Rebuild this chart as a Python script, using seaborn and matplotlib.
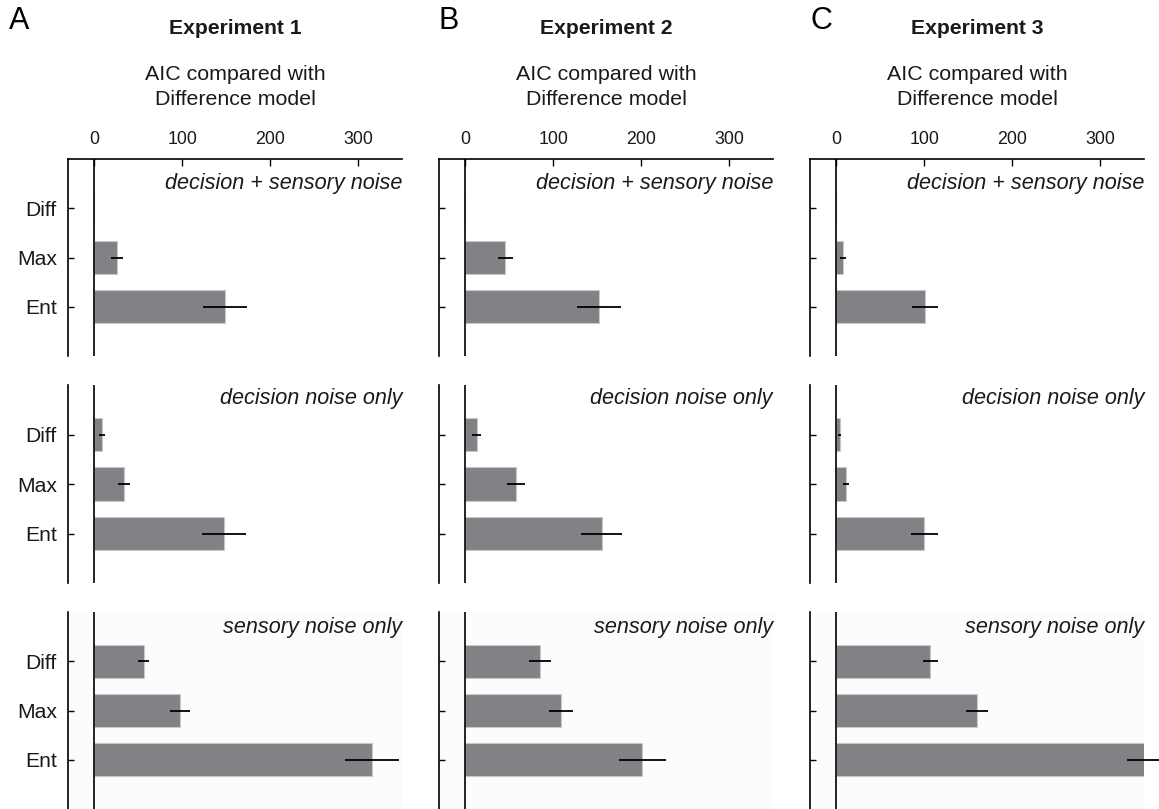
import matplotlib
matplotlib.use("Agg")
import matplotlib.pyplot as plt
import seaborn as sns
import pandas as pd
import numpy as np

sns.set_theme(style="white")
plt.rcParams['font.family'] = ['Liberation Sans', 'DejaVu Sans']

# ---------------- data ----------------
models = ["Diff", "Max", "Ent"]
experiments = ["Experiment 1", "Experiment 2", "Experiment 3"]
panel_letters = ["A", "B", "C"]
noise_types = ["decision + sensory noise", "decision noise only", "sensory noise only"]
xticks = [0, 100, 200, 300]

exp1_dec_sens = [0, 26, 149]
exp1_dec_sens_err = [0, 7, 25]
exp1_dec = [9, 33.5, 147]
exp1_dec_err = [3.5, 7, 25]
exp1_sens = [56, 97.5, 316]
exp1_sens_err = [6.5, 11.5, 31]

exp2_dec_sens = [0, 45.5, 152]
exp2_dec_sens_err = [0, 8.5, 24.5]
exp2_dec = [13, 57.5, 155]
exp2_dec_err = [5, 10, 23]
exp2_sens = [85, 108.5, 201.5]
exp2_sens_err = [12.5, 13.5, 26.5]

exp3_dec_sens = [0, 7.5, 101]
exp3_dec_sens_err = [0, 3, 15]
exp3_dec = [3.8, 10.5, 100]
exp3_dec_err = [2, 3.5, 15.5]
exp3_sens = [107, 160, 352]
exp3_sens_err = [9, 12, 21]

values = [[exp1_dec_sens, exp1_dec, exp1_sens],
          [exp2_dec_sens, exp2_dec, exp2_sens],
          [exp3_dec_sens, exp3_dec, exp3_sens]]
errors = [[exp1_dec_sens_err, exp1_dec_err, exp1_sens_err],
          [exp2_dec_sens_err, exp2_dec_err, exp2_sens_err],
          [exp3_dec_sens_err, exp3_dec_err, exp3_sens_err]]

# ---------------- layout ----------------
W, H = 1159, 809
fig = plt.figure(figsize=(W / 100, H / 100), dpi=100)

col_left = [68, 439, 810]
col_w = 334
row_top = [159, 385, 612]
row_bottom = [356, 583, 809]
label_offset = [24, 13, 15]
letter_x = [9, 439, 810]

bar_color = "#818285"
edge_color = "#c9c9c9"

def px_axes(l, t, w, h):
    return fig.add_axes([l / W, 1 - (t + h) / H, w / W, h / H])

for c in range(3):
    for r in range(3):
        h = row_bottom[r] - row_top[r]
        ax = px_axes(col_left[c], row_top[r], col_w, h)
        df = pd.DataFrame({"model": models, "aic": values[c][r]})
        sns.barplot(data=df, y="model", x="aic", orient="h", color=bar_color,
                    width=0.68, errorbar=None, ax=ax, saturation=1,
                    edgecolor=edge_color, linewidth=0.8)
        ax.errorbar(values[c][r], np.arange(3), xerr=errors[c][r], fmt="none",
                    ecolor="black", elinewidth=1.3, capsize=0, zorder=5,
                    clip_on=False)
        ax.axvline(0, color="black", lw=1.2, zorder=6)
        ax.set_xlim(-30, 350)
        ax.set_ylim(3, -1)
        ax.set_xlabel("")
        ax.set_ylabel("")
        ax.set_facecolor("#fcfcfc" if r == 2 else "white")

        for s in ["right", "bottom"]:
            ax.spines[s].set_visible(False)
        ax.spines["left"].set_color("black")
        ax.spines["left"].set_linewidth(1.2)
        if r == 0:
            ax.spines["top"].set_color("black")
            ax.spines["top"].set_linewidth(1.2)
            ax.xaxis.tick_top()
            ax.set_xticks(xticks)
            ax.set_xticklabels([str(t) for t in xticks])
            ax.tick_params(axis="x", direction="in", length=5, width=1.0,
                           colors="black", labelsize=12.8, pad=8,
                           top=True, bottom=False, labeltop=True, labelbottom=False)
            for lab in ax.get_xticklabels():
                lab.set_color("#1a1a1a")
        else:
            ax.spines["top"].set_visible(False)
            ax.set_xticks([])

        ax.set_yticks(range(3))
        if c == 0:
            ax.set_yticklabels(models)
        else:
            ax.set_yticklabels([])
        ax.tick_params(axis="y", direction="in", length=4, width=1.0,
                       colors="black", labelsize=15.2, pad=8, left=True)
        for lab in ax.get_yticklabels():
            lab.set_color("#1a1a1a")

        ax.text(1.0, 1 - label_offset[r] / h, noise_types[r], transform=ax.transAxes,
                ha="right", va="center", fontsize=15.6, style="italic",
                color="#1a1a1a")

        if r == 0:
            cx = (col_left[c] + col_w / 2) / W
            fig.text(cx, 1 - 29 / H, experiments[c], ha="center", va="center",
                     fontsize=15.2, fontweight="bold", color="#1a1a1a")
            fig.text(cx, 1 - 87 / H, "AIC compared with\nDifference model",
                     ha="center", va="center", fontsize=15.4, color="#1a1a1a",
                     linespacing=1.4)
            fig.text(letter_x[c] / W, 1 - 21 / H, panel_letters[c],
                     ha="left", va="center", fontsize=22, color="black")

fig.savefig("out.png", dpi=100)
